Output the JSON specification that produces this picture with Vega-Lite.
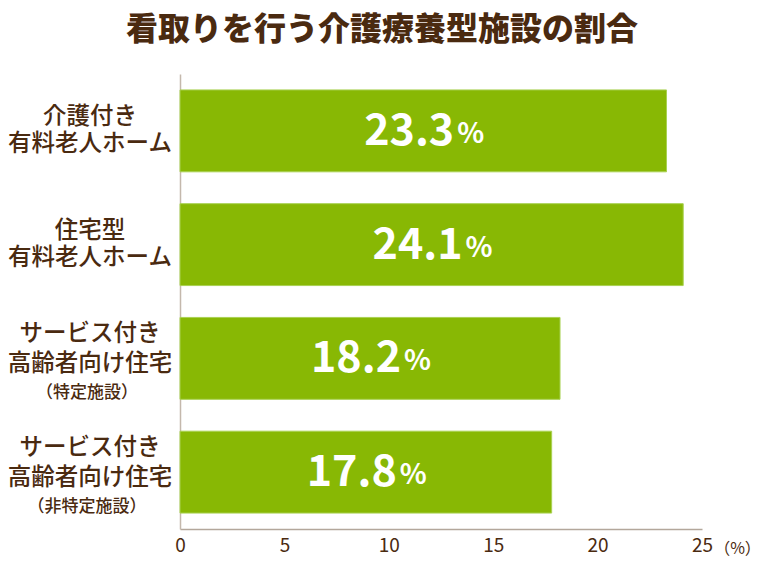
{
  "$schema": "https://vega.github.io/schema/vega-lite/v6.json",
  "autosize": {"type": "none"},
  "width": 522,
  "height": 455,
  "padding": {"left": 180, "top": 74, "right": 58, "bottom": 41},
  "background": "white",
  "title": {
    "text": "看取りを行う介護療養型施設の割合",
    "font": "Noto Sans CJK JP",
    "fontSize": 32,
    "fontWeight": 900,
    "color": "#4a2a10",
    "anchor": "middle",
    "dx": -59,
    "offset": 27
  },
  "config": {
    "view": {"stroke": null},
    "font": "Noto Sans CJK JP"
  },
  "data": {
    "values": [
      {"id": "a", "label": "介護付き\n有料老人ホーム", "sub": null, "value": 23.3},
      {"id": "b", "label": "住宅型\n有料老人ホーム", "sub": null, "value": 24.1},
      {"id": "c", "label": "サービス付き\n高齢者向け住宅", "sub": "（特定施設）", "value": 18.2},
      {"id": "d", "label": "サービス付き\n高齢者向け住宅", "sub": "（非特定施設）", "value": 17.8}
    ]
  },
  "encoding": {
    "y": {
      "field": "id",
      "type": "nominal",
      "sort": null,
      "scale": {"paddingInner": 0.28, "paddingOuter": 0.14},
      "axis": {
        "title": null,
        "labels": false,
        "ticks": false,
        "domainColor": "#c4b8ac",
        "domainWidth": 1.5
      }
    }
  },
  "layer": [
    {
      "mark": {"type": "bar", "color": "#88b804", "stroke": "#a9d152", "strokeWidth": 1},
      "encoding": {
        "x": {
          "field": "value",
          "type": "quantitative",
          "scale": {"domain": [0, 25], "nice": false},
          "axis": {
            "values": [0, 5, 10, 15, 20, 25],
            "grid": false,
            "ticks": false,
            "domainColor": "#b3a79b",
            "domainWidth": 1.5,
            "labelFont": "Noto Sans CJK JP",
            "labelFontSize": 19,
            "labelColor": "#4a2a10",
            "labelPadding": 7,
            "labelFlush": false,
            "title": "（%）",
            "titleFont": "Noto Sans CJK JP",
            "titleFontSize": 16,
            "titleFontWeight": "normal",
            "titleColor": "#4a2a10",
            "titleX": 557,
            "titleY": 19,
            "titleAlign": "center",
            "titleBaseline": "middle"
          }
        }
      }
    },
    {
      "transform": [{"filter": "datum.sub == null"}],
      "mark": {
        "type": "text",
        "lineBreak": "\n",
        "align": "center",
        "baseline": "middle",
        "fontSize": 23.5,
        "fontWeight": 500,
        "color": "#4a2a10",
        "lineHeight": 27,
        "dx": -90,
        "dy": -14
      },
      "encoding": {
        "x": {"datum": 0},
        "text": {"field": "label"}
      }
    },
    {
      "transform": [{"filter": "datum.sub != null"}],
      "mark": {
        "type": "text",
        "lineBreak": "\n",
        "align": "center",
        "baseline": "middle",
        "fontSize": 23.5,
        "fontWeight": 500,
        "color": "#4a2a10",
        "lineHeight": 30,
        "dx": -90,
        "dy": -24
      },
      "encoding": {
        "x": {"datum": 0},
        "text": {"field": "label"}
      }
    },
    {
      "transform": [{"filter": "datum.sub != null"}],
      "mark": {
        "type": "text",
        "align": "center",
        "baseline": "middle",
        "fontSize": 17,
        "fontWeight": 500,
        "color": "#4a2a10",
        "dx": -93,
        "dy": 35
      },
      "encoding": {
        "x": {"datum": 0},
        "text": {"field": "sub"}
      }
    },
    {
      "transform": [{"calculate": "datum.value / 2", "as": "mid"}],
      "mark": {
        "type": "text",
        "align": "right",
        "baseline": "middle",
        "fontSize": 43,
        "fontWeight": "bold",
        "color": "white",
        "dx": 31,
        "dy": 1
      },
      "encoding": {
        "x": {"field": "mid", "type": "quantitative"},
        "text": {"field": "value", "type": "quantitative", "format": ".1f"}
      }
    },
    {
      "transform": [{"calculate": "datum.value / 2", "as": "mid"}],
      "mark": {
        "type": "text",
        "align": "left",
        "baseline": "middle",
        "fontSize": 28,
        "fontWeight": "bold",
        "color": "white",
        "dx": 34,
        "dy": 4,
        "text": "%"
      },
      "encoding": {
        "x": {"field": "mid", "type": "quantitative"}
      }
    }
  ]
}
